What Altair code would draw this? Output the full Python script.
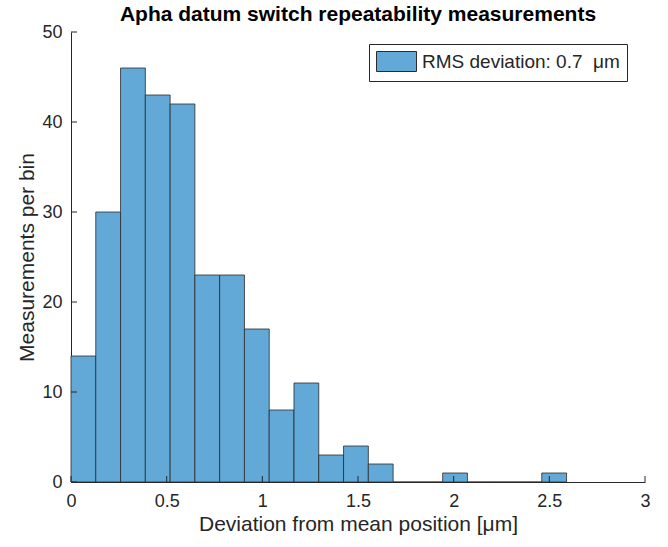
import altair as alt
import pandas as pd

bin_start = [0.0, 0.1295, 0.259, 0.3885, 0.518, 0.6475, 0.777, 0.9065, 1.036, 1.1655,
             1.295, 1.4245, 1.554, 1.6835, 1.813, 1.9425, 2.072, 2.2015, 2.331, 2.4605]
bin_end = [0.1295, 0.259, 0.3885, 0.518, 0.6475, 0.777, 0.9065, 1.036, 1.1655, 1.295,
           1.4245, 1.554, 1.6835, 1.813, 1.9425, 2.072, 2.2015, 2.331, 2.4605, 2.59]
counts = [14, 30, 46, 43, 42, 23, 23, 17, 8, 11, 3, 4, 2, 0, 0, 1, 0, 0, 0, 1]
legend_label = "RMS deviation: 0.7\u00a0 μm"
x_ticks = [0, 0.5, 1, 1.5, 2, 2.5, 3]
y_ticks = [0, 10, 20, 30, 40, 50]

df = pd.DataFrame({"start": bin_start, "end": bin_end, "count": counts,
                   "series": [legend_label] * len(counts)})
df_xt = pd.DataFrame({"v": x_ticks})
df_yt = pd.DataFrame({"v": y_ticks})

FONT = "Liberation Sans"
W, H = 574, 450
TXT = "#262626"
FILL = "#63a9d8"

xscale = alt.Scale(domain=[0, 3], nice=False)
yscale = alt.Scale(domain=[0, 50], nice=False)

xaxis = alt.Axis(orient="bottom", values=x_ticks, format="~g",
                 title="Deviation from mean position [μm]",
                 ticks=False, grid=False, domainColor=TXT, domainWidth=1,
                 labelFontSize=18, labelColor=TXT, labelFont=FONT,
                 labelPadding=10, labelFlush=False,
                 titleFontSize=21, titleFont=FONT, titleColor=TXT,
                 titleFontWeight="normal", titlePadding=3)
yaxis = alt.Axis(orient="left", values=y_ticks, title="Measurements per bin",
                 ticks=False, grid=False, domainColor=TXT, domainWidth=1,
                 labelFontSize=18, labelColor=TXT, labelFont=FONT,
                 labelPadding=9, labelFlush=False,
                 titleFontSize=21, titleFont=FONT, titleColor=TXT,
                 titleFontWeight="normal", titlePadding=4)

bars = alt.Chart(df).mark_bar(stroke="#2b2b2b", strokeWidth=1, strokeOpacity=0.8,
                              opacity=1).encode(
    x=alt.X("start:Q", scale=xscale, axis=xaxis),
    x2="end:Q",
    y=alt.Y("count:Q", scale=yscale, axis=yaxis),
    y2=alt.datum(0),
    color=alt.Color("series:N", scale=alt.Scale(range=[FILL]),
                    legend=alt.Legend(title=None, orient="none", legendX=298, legendY=12,
                                      symbolType="M-1,-1H3V1H-1Z", symbolSize=400,
                                      symbolStrokeColor="#2b2b2b", symbolStrokeWidth=1,
                                      symbolFillColor=FILL, symbolOpacity=1,
                                      labelFontSize=19, labelFont=FONT, labelColor=TXT,
                                      labelLimit=400, strokeColor=TXT, fillColor="white",
                                      padding=7, labelOffset=25, rowPadding=0)),
)

xticks = alt.Chart(df_xt).mark_rule(color=TXT, strokeWidth=1).encode(
    x=alt.X("v:Q", scale=xscale, axis=xaxis),
    y=alt.value(H),
    y2=alt.value(H - 6),
)
yticks = alt.Chart(df_yt).mark_rule(color=TXT, strokeWidth=1).encode(
    y=alt.Y("v:Q", scale=yscale, axis=yaxis),
    x=alt.value(0),
    x2=alt.value(6),
)

chart = alt.layer(bars, xticks, yticks).properties(
    width=W, height=H,
    title=alt.TitleParams("Apha datum switch repeatability measurements", font=FONT,
                          fontSize=21, fontWeight="bold", color="black", offset=10,
                          baseline="alphabetic", anchor="middle", dy=29),
    autosize=alt.AutoSizeParams(type="none"),
    padding={"left": 71, "top": 32, "right": 23, "bottom": 65},
).configure_view(stroke=None)

chart.save("out.html", embed_options={"renderer": "svg", "actions": False})
